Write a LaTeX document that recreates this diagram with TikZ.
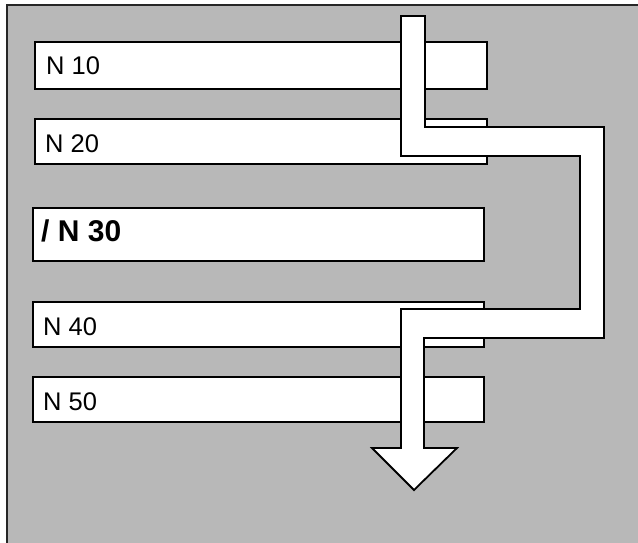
\documentclass[tikz,border=0pt]{standalone}
\usepackage{fontspec}
\setmainfont{Liberation Sans}
\begin{document}
\begin{tikzpicture}[x=1pt,y=-1pt,
  block/.style={draw=black, line width=1.8pt, fill=white, inner sep=0pt, anchor=north west},
  blocklabel/.style={anchor=base west, inner sep=0pt, font=\fontsize{25.5}{30}\selectfont},
  flow/.style={draw=black, line width=1.8pt, fill=white, line join=miter}]
  \useasboundingbox (0,0) rectangle (638,543);
  % shaded panel with its left and top border
  \fill[black!28] (7,5) rectangle (638,543);
  \draw[line width=2.4pt, black!85] (7,543) -- (7,5) -- (638,5);

  % program blocks
  \node[block, minimum width=452pt, minimum height=47pt] (n10) at (34,41) {};
  \node[block, minimum width=452pt, minimum height=45pt] (n20) at (34,118) {};
  \node[block, minimum width=451pt, minimum height=53pt] (n30) at (32,207) {};
  \node[block, minimum width=451pt, minimum height=45pt] (n40) at (32,301) {};
  \node[block, minimum width=451pt, minimum height=45pt] (n50) at (32,376) {};

  \node[blocklabel] (t10) at (46,75) {N 10};
  \node[blocklabel] (t20) at (45,153) {N 20};
  \node[blocklabel, font=\fontsize{30}{36}\selectfont\bfseries] (t30) at (41,241) {/ N 30};
  \node[blocklabel] (t40) at (43,335) {N 40};
  \node[blocklabel] (t50) at (43,410) {N 50};

  % program flow skipping block N 30
  \draw[flow] (401,16) -- (425,16) -- (425,127) -- (604,127) -- (604,338)
    -- (424,338) -- (424,448) -- (457,448) -- (414,490) -- (372,448)
    -- (401,448) -- (401,309) -- (580,309) -- (580,156) -- (401,156) -- cycle;
\end{tikzpicture}
\end{document}
